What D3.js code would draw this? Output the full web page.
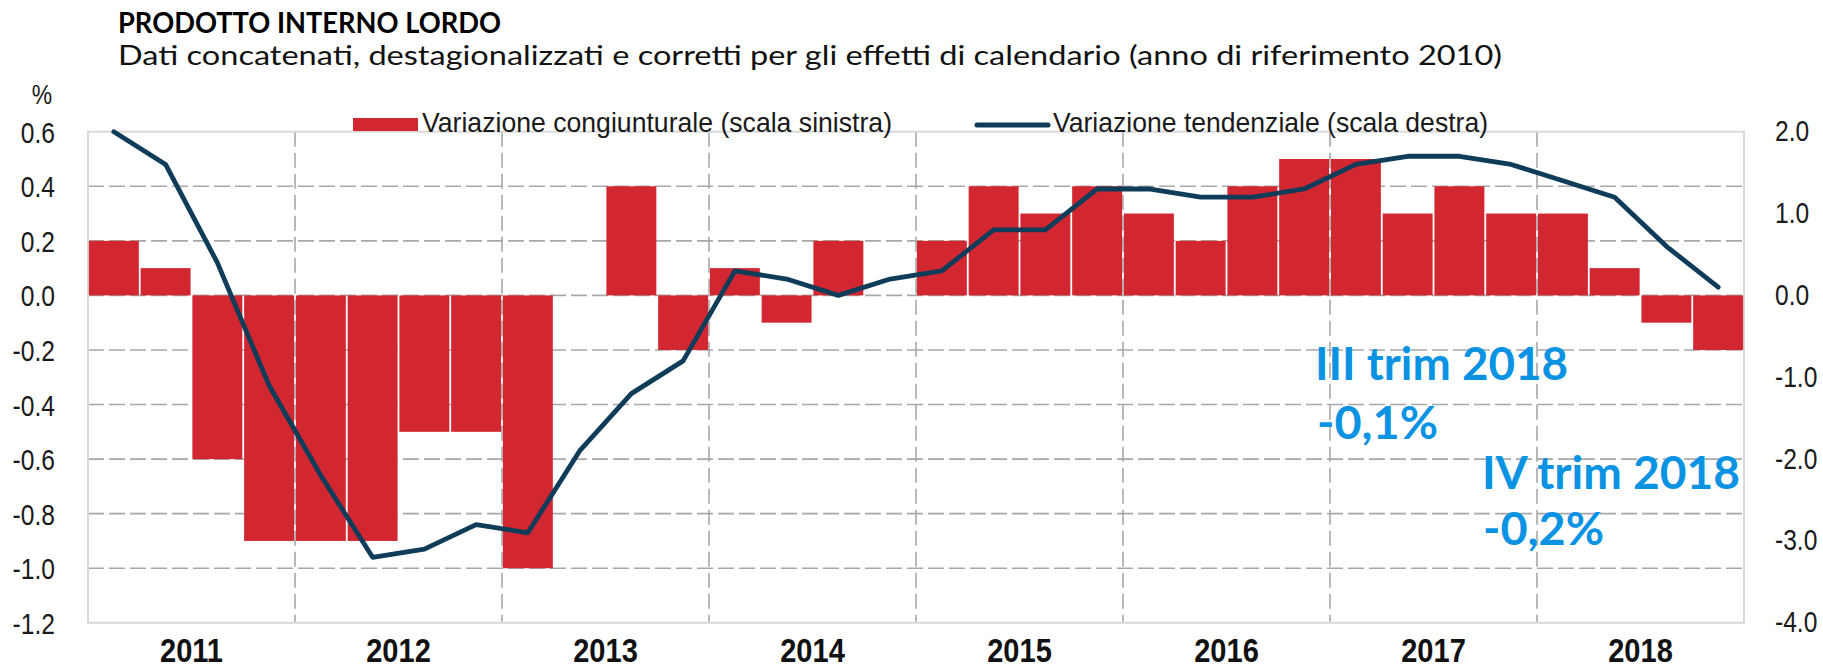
<!DOCTYPE html>
<html>
<head>
<meta charset="utf-8">
<script src="https://cdn.jsdelivr.net/npm/d3@7"></script>
<style>
  body { margin: 0; background: #fff; }
  .narrow { font-family: 'Liberation Sans', Arial, sans-serif; }
</style>
</head>
<body>
<script>
// quarters 2011Q1 .. 2018Q4
var quarters = ["2011Q1","2011Q2","2011Q3","2011Q4","2012Q1","2012Q2","2012Q3","2012Q4",
                "2013Q1","2013Q2","2013Q3","2013Q4","2014Q1","2014Q2","2014Q3","2014Q4",
                "2015Q1","2015Q2","2015Q3","2015Q4","2016Q1","2016Q2","2016Q3","2016Q4",
                "2017Q1","2017Q2","2017Q3","2017Q4","2018Q1","2018Q2","2018Q3","2018Q4"];
var years = ["2011","2012","2013","2014","2015","2016","2017","2018"];

// variazione congiunturale (scala sinistra)
var congiunturale = [0.2, 0.1, -0.6, -0.9, -0.9, -0.9, -0.5, -0.5,
                     -1.0, 0.0, 0.4, -0.2, 0.1, -0.1, 0.2, 0.0,
                     0.2, 0.4, 0.3, 0.4, 0.3, 0.2, 0.4, 0.5,
                     0.5, 0.3, 0.4, 0.3, 0.3, 0.1, -0.1, -0.2];
// variazione tendenziale (scala destra)
var tendenziale = [2.0, 1.6, 0.4, -1.1, -2.2, -3.2, -3.1, -2.8,
                   -2.9, -1.9, -1.2, -0.8, 0.3, 0.2, 0.0, 0.2,
                   0.3, 0.8, 0.8, 1.3, 1.3, 1.2, 1.2, 1.3,
                   1.6, 1.7, 1.7, 1.6, 1.4, 1.2, 0.6, 0.1];

var leftTicks = [0.6, 0.4, 0.2, 0.0, -0.2, -0.4, -0.6, -0.8, -1.0, -1.2];
var rightTicks = [2.0, 1.0, 0.0, -1.0, -2.0, -3.0, -4.0];

var W = 1823, H = 671;
var x0 = 88, x1 = 1744, yTop = 131.7, yBot = 622.8;
var squeeze = "scale(0.82,1)";   // no narrow font installed, so squeeze Liberation Sans

var svg = d3.select("body").append("svg")
    .attr("width", W).attr("height", H);

var xScale = d3.scaleBand().domain(quarters).range([x0, x1]).paddingInner(0.035).paddingOuter(0.017);
var yLeft = d3.scaleLinear().domain([-1.2, 0.6]).range([yBot, yTop]);
var yRight = d3.scaleLinear().domain([-4.0, 2.0]).range([yBot, yTop]);
var yearScale = d3.scaleBand().domain(years).range([x0, x1]);
var fmt = function(d) { return d3.format(".1f")(d).replace("−", "-"); };

// title
svg.append("text")
    .attr("x", 118).attr("y", 33)
    .attr("font-family", "Lato, 'Open Sans', sans-serif")
    .attr("font-weight", "bold")
    .attr("font-size", "28px")
    .attr("textLength", 383).attr("lengthAdjust", "spacingAndGlyphs")
    .text("PRODOTTO INTERNO LORDO");

svg.append("text")
    .attr("x", 118).attr("y", 65)
    .attr("font-family", "Lato, 'Open Sans', sans-serif")
    .attr("font-size", "27px")
    .attr("fill", "#111")
    .attr("textLength", 1384).attr("lengthAdjust", "spacingAndGlyphs")
    .text("Dati concatenati, destagionalizzati e corretti per gli effetti di calendario (anno di riferimento 2010)");

// horizontal dashed gridlines
svg.append("g").selectAll("line")
    .data(leftTicks.filter(function(d) { return d < 0.6 && d > -1.2; }))
  .enter().append("line")
    .attr("x1", x0).attr("x2", x1)
    .attr("y1", function(d) { return yLeft(d); })
    .attr("y2", function(d) { return yLeft(d); })
    .attr("stroke", "#a8a8a8").attr("stroke-width", 1.6)
    .attr("stroke-dasharray", "16,5");

// vertical dashed gridlines at year boundaries
svg.append("g").selectAll("line")
    .data(years.slice(1))
  .enter().append("line")
    .attr("x1", function(d) { return yearScale(d); })
    .attr("x2", function(d) { return yearScale(d); })
    .attr("y1", yTop).attr("y2", yBot)
    .attr("stroke", "#a8a8a8").attr("stroke-width", 1.6)
    .attr("stroke-dasharray", "15,6");

// frame
svg.append("rect")
    .attr("x", x0).attr("y", yTop)
    .attr("width", x1 - x0).attr("height", yBot - yTop)
    .attr("fill", "none").attr("stroke", "#d9d9d9").attr("stroke-width", 2);

// bars
svg.append("g").selectAll("rect")
    .data(quarters)
  .enter().append("rect")
    .attr("x", function(d) { return xScale(d); })
    .attr("width", xScale.bandwidth())
    .attr("y", function(d, i) { return yLeft(Math.max(0, congiunturale[i])); })
    .attr("height", function(d, i) { return Math.abs(yLeft(congiunturale[i]) - yLeft(0)); })
    .attr("fill", "#d22630");

// line
var line = d3.line()
    .x(function(d, i) { return xScale(quarters[i]) + xScale.bandwidth() / 2; })
    .y(function(d) { return yRight(d); });

svg.append("path")
    .datum(tendenziale)
    .attr("d", line)
    .attr("fill", "none")
    .attr("stroke", "#0f3c59")
    .attr("stroke-width", 4.8)
    .attr("stroke-linejoin", "round")
    .attr("stroke-linecap", "round");

// left axis
var gl = svg.append("g")
    .attr("transform", "translate(55,0)")
    .call(d3.axisLeft(yLeft).tickValues(leftTicks).tickSize(0).tickPadding(0));
gl.select(".domain").remove();
gl.selectAll("text")
    .attr("class", "narrow")
    .attr("font-size", "30px")
    .attr("fill", "#1a1a1a")
    .attr("dy", "0.35em")
    .attr("transform", squeeze)
    .text(fmt);
gl.attr("font-family", null);

svg.append("text")
    .attr("class", "narrow")
    .attr("transform", "translate(42,104) " + squeeze)
    .attr("text-anchor", "middle")
    .attr("font-size", "28px")
    .attr("fill", "#1a1a1a")
    .text("%");

// right axis
var gr = svg.append("g")
    .attr("transform", "translate(1775,0)")
    .call(d3.axisRight(yRight).tickValues(rightTicks).tickSize(0).tickPadding(0));
gr.select(".domain").remove();
gr.selectAll("text")
    .attr("class", "narrow")
    .attr("font-size", "30px")
    .attr("fill", "#1a1a1a")
    .attr("dy", "0.3em")
    .attr("transform", squeeze)
    .text(fmt);
gr.attr("font-family", null);

// x axis (years)
var gx = svg.append("g")
    .attr("transform", "translate(0,662)")
    .call(d3.axisBottom(yearScale).tickSize(0).tickPadding(0));
gx.select(".domain").remove();
gx.selectAll("text")
    .attr("class", "narrow")
    .attr("font-weight", "bold")
    .attr("font-size", "33px")
    .attr("fill", "#111")
    .attr("dy", 0)
    .attr("transform", "scale(0.88,1)");
gx.attr("font-family", null);

// legend
var legend = svg.append("g").attr("class", "narrow");
legend.append("rect")
    .attr("x", 353).attr("y", 118).attr("width", 65).attr("height", 13)
    .attr("fill", "#d22630");
legend.append("text")
    .attr("x", 422).attr("y", 132)
    .attr("font-size", "28px").attr("fill", "#1a1a1a")
    .attr("textLength", 470).attr("lengthAdjust", "spacingAndGlyphs")
    .text("Variazione congiunturale (scala sinistra)");
legend.append("line")
    .attr("x1", 977).attr("x2", 1048).attr("y1", 125).attr("y2", 125)
    .attr("stroke", "#0f3c59").attr("stroke-width", 5).attr("stroke-linecap", "round");
legend.append("text")
    .attr("x", 1053).attr("y", 132)
    .attr("font-size", "28px").attr("fill", "#1a1a1a")
    .attr("textLength", 435).attr("lengthAdjust", "spacingAndGlyphs")
    .text("Variazione tendenziale (scala destra)");

// annotations
var notes = [
  {t: "III trim 2018", x: 1315, y: 380, w: 253},
  {t: "-0,1%", x: 1317, y: 439, w: 121},
  {t: "IV trim 2018", x: 1482, y: 489, w: 258},
  {t: "-0,2%", x: 1483, y: 545, w: 121}
];
svg.append("g").selectAll("text")
    .data(notes)
  .enter().append("text")
    .attr("x", function(d) { return d.x; })
    .attr("y", function(d) { return d.y; })
    .attr("font-family", "Lato, 'Open Sans', sans-serif")
    .attr("font-weight", "bold")
    .attr("font-size", "46px")
    .attr("fill", "#0a92e3")
    .attr("textLength", function(d) { return d.w; })
    .attr("lengthAdjust", "spacingAndGlyphs")
    .text(function(d) { return d.t; });
</script>
</body>
</html>
